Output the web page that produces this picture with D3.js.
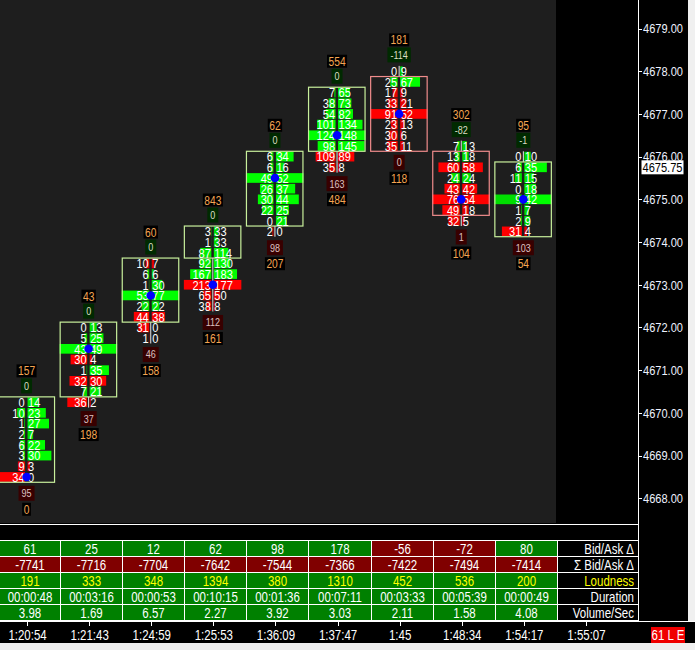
<!DOCTYPE html>
<html><head><meta charset="utf-8">
<script src="https://cdn.jsdelivr.net/npm/d3@7/dist/d3.min.js"></script>
<style>
html,body{margin:0;padding:0;background:#000;}
svg{display:block;}
text{font-family:'Liberation Sans',Arial,sans-serif;}
</style></head>
<body>
<svg id="c" width="695" height="650"></svg>
<script>
// ---------- DATA ----------
const times = ["1:20:54","1:21:43","1:24:59","1:25:53","1:36:09","1:37:47","1:45","1:48:34","1:54:17","1:55:07"];
const highPrice  = [4670.25, 4672.00, 4673.50, 4674.25, 4676.00, 4677.50, 4678.00, 4676.25, 4676.00];
const openPrice  = [4668.50, 4670.50, 4672.25, 4673.75, 4674.50, 4676.25, 4677.75, 4676.00, 4674.25];
const closePrice = [4670.25, 4672.00, 4673.50, 4674.25, 4676.00, 4677.50, 4676.25, 4674.75, 4675.75];
const bidVol = [
  [0,10,1,2,6,3,9,34],
  [0,5,43,30,1,32,7,36],
  [10,6,1,53,22,44,31,1],
  [3,1,87,92,167,213,65,38],
  [6,6,49,26,30,22,0,2],
  [7,38,54,101,124,98,109,35],
  [0,25,17,33,91,23,30,35],
  [7,13,60,24,43,76,49,32],
  [0,6,11,0,9,1,2,31]
];
const askVol = [
  [14,23,27,7,22,30,3,0],
  [13,25,49,4,35,30,21,2],
  [7,6,30,77,22,38,0,0],
  [33,33,114,130,183,177,50,8],
  [34,16,52,37,44,25,21,0],
  [65,73,82,134,148,145,89,8],
  [9,67,9,21,52,13,6,11],
  [13,18,58,24,42,54,18,5],
  [10,35,15,18,42,7,9,4]
];
const topVolume    = [157,43,60,843,62,554,181,302,95];
const topDelta     = [0,0,0,0,0,0,-114,-82,-1];
const bottomDelta  = [95,37,46,112,98,163,0,1,103];
const bottomVolume = [0,198,158,161,207,484,118,104,54];
const priceTicks = [4668,4669,4670,4671,4672,4673,4674,4675,4676,4677,4678,4679];
const lastPrice = 4675.75;
const tableLabels = ["Bid/Ask Δ","Σ Bid/Ask Δ","Loudness","Duration","Volume/Sec"];
const bidAskDelta = [61,25,12,62,98,178,-56,-72,80];
const sumDelta    = [-7741,-7716,-7704,-7642,-7544,-7366,-7422,-7494,-7414];
const loudness    = [191,333,348,1394,380,1310,452,536,200];
const duration    = ["00:00:48","00:03:16","00:00:53","00:10:15","00:01:36","00:07:11","00:03:33","00:05:39","00:00:49"];
const volPerSec   = [3.98,1.69,6.57,2.27,3.92,3.03,2.11,1.58,4.08];
const statusText = "61 L E";

// ---------- HELPERS ----------
const NARROW = 0.82;
function txt(parent, x, y, str, size, fill, anchor){
  return parent.append("text")
    .attr("transform", `translate(${x},${y}) scale(${NARROW},1)`)
    .attr("dy","0.36em").attr("text-anchor", anchor||"start")
    .attr("fill", fill).attr("font-size", size).text(str);
}

// ---------- SCALES ----------
const svg = d3.select("#c");
const y = d3.scaleLinear().domain([4668, 4679]).range([498.3, 28.5]);
const x = d3.scaleBand().domain(times).range([-5, 616]).padding(0);
const bw = x.bandwidth();
const cx = i => x(times[i]) + bw/2;
const rowH = y(0) - y(0.25);
const tick = 0.25;

// ---------- BACKGROUND ----------
svg.append("rect").attr("width",695).attr("height",650).attr("fill","#000");
svg.append("rect").attr("x",0).attr("y",0).attr("width",556).attr("height",523).attr("fill","#1e1e1e");
svg.append("rect").attr("x",688).attr("y",0).attr("width",7).attr("height",621).attr("fill","#f0f0f0");
svg.append("rect").attr("x",0).attr("y",643).attr("width",695).attr("height",7).attr("fill","#f0f0f0");
svg.append("line").attr("x1",638.5).attr("x2",638.5).attr("y1",0).attr("y2",621).attr("stroke","#fff");
svg.append("line").attr("x1",0).attr("x2",638).attr("y1",524.5).attr("y2",524.5).attr("stroke","#fff");

// ---------- PRICE AXIS ----------
const pa = svg.append("g");
priceTicks.forEach(p=>{
  const yy = Math.round(y(p))+0.5;
  pa.append("line").attr("x1",638).attr("x2",642).attr("y1",yy).attr("y2",yy).attr("stroke","#fff");
  txt(pa, 643, y(p), d3.format(".2f")(p), "13.5px", "#eef2ff");
});
const lpG = svg.append("g");
lpG.append("rect").attr("x",641.5).attr("y",y(lastPrice)-7).attr("width",42).attr("height",14).attr("fill","#fff");
txt(lpG, 662.5, y(lastPrice), d3.format(".2f")(lastPrice), "13.5px", "#000", "middle");

// ---------- FOOTPRINTS ----------
const green = d3.interpolateRgb("#00b400","#00ff00");
const red = d3.interpolateRgb("#c80000","#ff0000");
const fp = svg.append("g");
highPrice.forEach((hi,i)=>{
  const c = cx(i);
  const g = fp.append("g");
  const bids = bidVol[i], asks = askVol[i];
  const n = bids.length;
  const lo = hi - tick*(n-1);
  const colMax = d3.max(bids.concat(asks));
  const len = d3.scaleLinear().domain([0,colMax]).range([0,27]);
  const totals = bids.map((b,k)=>b+asks[k]);
  const poc = totals.indexOf(d3.max(totals));
  const bodyHi = Math.max(openPrice[i],closePrice[i]);
  const bodyLo = Math.min(openPrice[i],closePrice[i]);
  const boxTop = y(bodyHi) - rowH/2, boxBot = y(bodyLo) + rowH/2;
  const topEdge = y(hi) - rowH/2, botEdge = y(lo) + rowH/2;
  if (topEdge < boxTop-0.5) g.append("line").attr("x1",c+0.5).attr("x2",c+0.5).attr("y1",topEdge).attr("y2",boxTop).attr("stroke","#e8e8e8");
  if (botEdge > boxBot+0.5) g.append("line").attr("x1",c+0.5).attr("x2",c+0.5).attr("y1",boxBot).attr("y2",botEdge).attr("stroke","#e8e8e8");
  bids.forEach((b,k)=>{
    const a = asks[k];
    const yc = y(hi - tick*k);
    const col = a >= b ? green : red;
    const lb = k===poc && b>0 ? 27.5 : len(b);
    const la = k===poc && a>0 ? 27.5 : len(a);
    const t = v => Math.min(1, 0.35 + v/colMax);
    if (lb>0) g.append("rect").attr("x",c-1-lb).attr("y",yc-rowH/2+0.5).attr("width",lb).attr("height",rowH-1).attr("fill",col(t(b)));
    if (la>0) g.append("rect").attr("x",c+1.5).attr("y",yc-rowH/2+0.5).attr("width",la).attr("height",rowH-1).attr("fill",col(t(a)));
  });
  const boxColor = closePrice[i] >= openPrice[i] ? "#c8f09c" : "#f08c8c";
  g.append("rect").attr("x",c-28).attr("y",boxTop).attr("width",56.5).attr("height",boxBot-boxTop)
    .attr("fill","none").attr("stroke",boxColor).attr("stroke-width",1.2);
  bids.forEach((b,k)=>{
    const yc = y(hi - tick*k);
    txt(g, c-1.5, yc, b, "13.5px", "#fff", "end");
    txt(g, c+2, yc, asks[k], "13.5px", "#fff", "start");
  });
  g.append("circle").attr("cx",c+0.5).attr("cy",y(hi - tick*poc)).attr("r",4.3).attr("fill","#0000ff");

  const label = (val, ycen, bg, fg, fs, padX, h) => {
    const t = txt(g, c+0.5, ycen, val, fs, fg, "middle");
    const w = t.node().getComputedTextLength()*NARROW;
    g.insert("rect", function(){return t.node();}).attr("x",c+0.5-w/2-padX).attr("y",ycen-h/2)
      .attr("width",w+2*padX).attr("height",h).attr("fill",bg);
  };
  label(topVolume[i], topEdge-26, "#000", "#f4a552", "12.5px", 1.5, 13);
  label(topDelta[i], topEdge-11, "#002a00", "#dcdcc4", "11px", 3, 15);
  label(bottomDelta[i], botEdge+11, "#380000", "#dcc0c0", "11px", 3, 15);
  label(bottomVolume[i], botEdge+27, "#000", "#f4a552", "12.5px", 1.5, 13);
});

// ---------- TABLE ----------
const tb = svg.append("g");
tb.append("rect").attr("x",0).attr("y",540).attr("width",639).attr("height",81).attr("fill","#fff");
const bounds = d3.range(9).map(i=>Math.round(cx(i)+34));
const rows = [bidAskDelta, sumDelta, loudness, duration, volPerSec];
rows.forEach((vals,r)=>{
  const ry = 541 + 16*r;
  vals.forEach((v,i)=>{
    const x0 = i===0 ? 0 : bounds[i-1]+1;
    const x1 = bounds[i];
    const fill = (typeof v === "number" && v < 0) ? "#800000" : "#008000";
    tb.append("rect").attr("x",x0).attr("y",ry).attr("width",x1-x0).attr("height",15).attr("fill",fill);
    txt(tb, (x0+x1)/2, ry+7.5, v, "14px", r===2 ? "#ffff00" : "#fff", "middle");
  });
  tb.append("rect").attr("x",bounds[8]+1).attr("y",ry).attr("width",638-bounds[8]-1).attr("height",15).attr("fill","#000");
  txt(tb, 634, ry+7.5, tableLabels[r], "14px", r===2 ? "#ffff00" : "#fff", "end");
});

// ---------- TIME AXIS ----------
const ta = svg.append("g");
ta.append("line").attr("x1",0).attr("x2",695).attr("y1",621.5).attr("y2",621.5).attr("stroke","#fff");
times.forEach((t,i)=>{
  const xx = Math.round(cx(i)+1)+0.5;
  ta.append("line").attr("x1",xx).attr("x2",xx).attr("y1",622).attr("y2",626).attr("stroke","#fff");
  txt(ta, cx(i)+1.5, 635, t, "14px", "#fff", "middle");
});
ta.append("rect").attr("x",651).attr("y",627).attr("width",34).attr("height",16).attr("fill","#f00000");
txt(ta, 668, 635, statusText, "14px", "#fff", "middle");
</script>
</body></html>
